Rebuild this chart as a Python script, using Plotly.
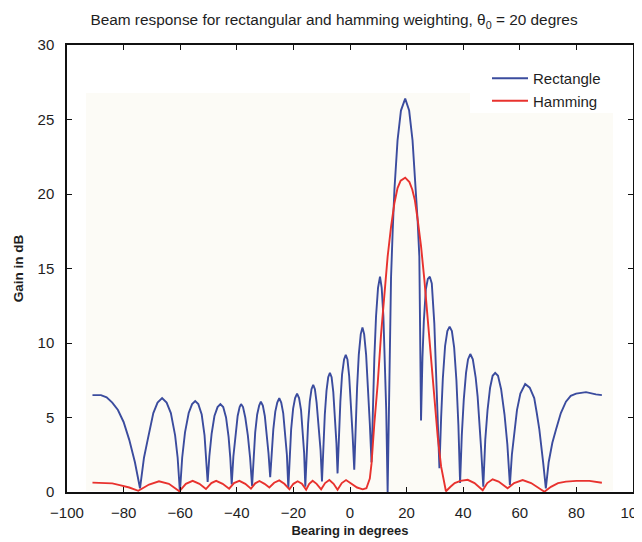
import plotly.graph_objects as go

# Rectangle (uniform) weighting response
rect_x = [-91, -88, -86, -84, -82, -80, -78, -76, -74.2,
          -72.8, -71.5, -69.5, -68, -66.4, -64.8, -63.3, -61.8, -60.9, -60.1,
          -59.3, -58.3, -57, -55.8, -54.7, -53.6, -52.4, -51.4, -50.8, -50.3,
          -49.7, -48.9, -47.9, -46.8, -45.8, -44.8, -43.8, -42.9, -42.3, -41.8,
          -41.2, -40.5, -39.7, -39.0, -38.5, -37.8, -37.0, -36.1, -35.3, -34.6,
          -34.1, -33.5, -32.8, -32.1, -31.5, -30.8, -30.1, -29.4, -28.8, -28.2,
          -27.7, -27.1, -26.4, -25.7, -25.0, -24.3, -23.6, -22.9, -22.3, -21.8,
          -21.3, -20.8, -20.1, -19.4, -18.7, -18.0, -17.3, -16.7, -16.2, -15.8,
          -15.3, -14.8, -14.2, -13.6, -13.0, -12.4, -11.8, -11.2, -10.4, -9.9,
          -9.4, -8.9, -8.3, -7.7, -7.1, -6.5, -5.9, -5.3, -4.8, -4.4,
          -3.9, -3.4, -2.8, -2.1, -1.5, -0.9, -0.3, 0.3, 0.9, 1.5,
          2.0, 2.5, 3.1, 3.8, 4.4, 5.0, 5.7, 6.4, 7.0, 7.6,
          8.1, 8.6, 9.2, 9.9, 10.6, 11.2, 11.8, 12.3, 12.8, 13.3,
          13.9, 14.5, 15.1, 15.7, 16.8, 18.0, 19.5, 20.9, 22.1, 23.3, 23.9, 24.5, 25.1,
          25.6, 26.1, 26.8, 27.5, 28.2, 28.9, 29.8, 30.6, 31.1, 31.6,
          32.2, 32.8, 33.6, 34.4, 35.2, 36.0, 36.8, 37.6, 38.3, 38.9,
          39.5, 40.2, 41.0, 41.7, 42.5, 43.4, 44.4, 45.1, 46.3, 47.1,
          47.8, 48.6, 49.5, 50.4, 51.3, 52.3, 53.4, 54.6, 55.6, 56.5,
          57.2, 58.1, 59.0, 60.2, 61.9, 63.5, 65.1, 66.0, 66.9, 68.3, 69.2,
          70.2, 71.5, 72.8, 74.5, 76.3, 78.0, 79.9, 83.4, 86.9, 89.0]
rect_y = [6.5, 6.5, 6.35, 6.0, 5.5, 4.7, 3.5, 2.0, 0.25,
          2.3, 3.5, 5.3, 6.0, 6.3, 6.0, 5.3, 3.8, 2.3, 0.0,
          2.3, 4.0, 5.3, 5.9, 6.1, 5.9, 5.2, 3.8, 2.4, 0.67,
          2.4, 3.9, 5.1, 5.7, 5.9, 5.7, 5.0, 3.7, 2.3, 0.5,
          2.4, 3.9, 5.1, 5.7, 5.9, 5.7, 5.0, 3.8, 2.3, 0.4,
          2.4, 4.0, 5.2, 5.8, 6.06, 5.8, 5.1, 3.9, 2.6, 1.0,
          2.8, 4.2, 5.4, 6.0, 6.3, 6.0, 5.3, 4.0, 2.5, 0.27,
          2.6, 4.2, 5.6, 6.3, 6.6, 6.3, 5.5, 4.2, 2.6, 0.36,
          2.9, 4.6, 6.1, 6.9, 7.2, 6.9, 6.0, 4.6, 2.8, 0.7,
          3.3, 5.2, 6.8, 7.7, 8.0, 7.7, 6.7, 5.1, 3.3, 1.25,
          4.0, 6.1, 7.9, 8.9, 9.2, 8.9, 7.8, 6.0, 3.9, 1.5,
          4.5, 7.0, 9.2, 10.6, 11.05, 10.6, 9.2, 7.0, 4.6, 2.0,
          6.0, 9.0, 11.8, 13.7, 14.45, 13.7, 11.8, 9.0, 5.5, 0.0,
          9.1, 14.4, 17.6, 20.3, 23.6, 25.6, 26.4, 25.6, 23.6, 20.3, 18.2, 15.8, 4.8,
          9.0, 11.5, 13.6, 14.3, 14.45, 14.0, 11.3, 6.8, 4.2, 1.6,
          5.0, 7.6, 9.8, 10.8, 11.1, 10.8, 9.7, 7.5, 4.5, 0.6,
          3.8, 6.2, 8.0, 8.9, 9.26, 8.9, 7.7, 6.4, 3.0, 0.36,
          3.5, 5.5, 7.0, 7.8, 8.0, 7.8, 6.9, 5.2, 3.2, 0.47,
          2.5, 4.2, 5.5, 6.6, 7.25, 7.0, 6.3, 5.3, 4.2, 1.9, 0.25,
          2.0, 3.3, 4.2, 5.3, 6.06, 6.45, 6.6, 6.7, 6.55, 6.5]

# Hamming weighting response
ham_x = [-91, -87, -84, -81, -78, -74.8, -71, -67.5, -64, -60.3,
         -58, -55.6, -53.2, -50.9, -49, -47.3, -45, -42.7, -41, -39.1,
         -37, -35, -33.5, -32, -30.2, -28.5, -26.8, -25, -23.2, -21.4,
         -20, -18.5, -17, -15.5, -14.4, -13.2, -11.8, -10.2, -8.8, -7.3,
         -5.8, -4.4, -2.9, -1.4, 0.3, 2.5, 4.5, 5.8, 7.0, 7.6,
         8.6, 9.8, 11.0, 12.1, 13.3, 14.5, 15.7, 16.8, 17.9, 19.5,
         21.0, 22.0, 22.9, 23.9, 25.1, 26.3, 27.4, 28.6, 29.8, 31.0,
         32.2, 33.9, 35.5, 37.0, 39.0, 41.6, 44.0, 46.9, 48.5, 50.4,
         52.5, 55.7, 58.0, 61.0, 64.0, 66.5, 68.7, 71.0, 73.5, 76.3,
         80.0, 84.6, 87.0, 89.0]
ham_y = [0.63, 0.63, 0.58, 0.45, 0.3, 0.08, 0.5, 0.72, 0.55, 0.05,
         0.55, 0.75, 0.55, 0.2, 0.6, 0.75, 0.55, 0.22, 0.6, 0.75,
         0.55, 0.22, 0.58, 0.74, 0.55, 0.3, 0.62, 0.78, 0.55, 0.18,
         0.55, 0.72, 0.55, 0.15, 0.55, 0.76, 0.55, 0.18, 0.6, 0.8,
         0.55, 0.15, 0.6, 0.8, 0.6, 0.3, 0.18, 0.25, 0.9, 1.9,
         4.6, 7.3, 10.65, 13.3, 15.8, 17.8, 19.4, 20.4, 20.9, 21.1,
         20.8, 20.3, 19.6, 18.3, 16.5, 14.2, 11.8, 9.1, 6.4, 3.7,
         1.7, 0.05, 0.35, 0.6, 0.75, 0.82, 0.6, 0.12, 0.6, 0.85,
         0.7, 0.25, 0.6, 0.8, 0.6, 0.3, 0.02, 0.35, 0.6, 0.7,
         0.75, 0.75, 0.68, 0.62]

x_ticks = [-100, -80, -60, -40, -20, 0, 20, 40, 60, 80, 100]
y_ticks = [0, 5, 10, 15, 20, 25, 30]

FONT = "Arial, Liberation Sans, sans-serif"
BLUE = "#3b4c9e"
RED = "#e8322e"
TXT = "#1e1e1e"

fig = go.Figure()
fig.add_trace(go.Scatter(x=rect_x, y=rect_y, mode="lines", name="Rectangle",
                         line=dict(color=BLUE, width=1.9)))
fig.add_trace(go.Scatter(x=ham_x, y=ham_y, mode="lines", name="Hamming",
                         line=dict(color=RED, width=1.9)))

# the page body adds an 8px margin, so the figure is sized to fit the window
OFF = 8
W, H = 642 - OFF, 542 - OFF
L, T = 67 - OFF, 45 - OFF
R = W - (633 - OFF)
B = H - (492 - OFF)
pw, ph = W - L - R, H - T - B

def px_x(p):  # page pixel -> paper fraction
    return (p - OFF - L) / pw

def px_y(p):
    return (H - B - (p - OFF)) / ph

shapes = [
    # cream background panel
    dict(type="rect", xref="paper", yref="paper", x0=px_x(86), x1=px_x(613),
         y0=px_y(491), y1=px_y(93), fillcolor="#fcfbf6", line=dict(width=0),
         layer="below"),
    # white box behind legend
    dict(type="rect", xref="paper", yref="paper", x0=px_x(470), x1=px_x(613),
         y0=px_y(113), y1=px_y(92), fillcolor="#ffffff", line=dict(width=0),
         layer="below"),
]

fig.update_layout(
    width=W, height=H,
    margin=dict(l=L, r=R, t=T, b=B, autoexpand=False),
    paper_bgcolor="white", plot_bgcolor="white",
    font=dict(family=FONT, size=14, color=TXT),
    title=dict(text="Beam response for rectangular and hamming weighting, θ<sub>0</sub> = 20 degres",
               x=(334 - OFF) / W, xref="container", xanchor="center",
               y=1 - (20 - OFF) / H, yref="container", yanchor="middle",
               automargin=False,
               font=dict(size=15.4, family=FONT, color=TXT)),
    showlegend=True,
    legend=dict(x=px_x(487), y=px_y(62), xanchor="left", yanchor="top",
                bgcolor="rgba(0,0,0,0)", font=dict(size=15, family=FONT, color=TXT),
                itemwidth=36, tracegroupgap=0),
    shapes=shapes,
)
fig.update_xaxes(range=[-100, 100], tickvals=x_ticks, ticks="inside", ticklen=5,
                 tickwidth=1.2, tickcolor="#111111", showline=True, linecolor="#111111",
                 linewidth=1.5, mirror="ticks", showgrid=False, zeroline=False,
                 automargin=False, ticklabelstandoff=6, ticklabeloverflow="allow",
                 tickfont=dict(size=15, family=FONT, color=TXT),
                 title=dict(text="<b>Bearing in degrees</b>", standoff=6,
                            font=dict(size=13, family=FONT, color=TXT)))
fig.update_yaxes(range=[0, 30], tickvals=y_ticks, ticks="inside", ticklen=5,
                 tickwidth=1.2, tickcolor="#111111", showline=True, linecolor="#111111",
                 linewidth=1.5, mirror="ticks", showgrid=False, zeroline=False,
                 automargin=False, ticklabelstandoff=8, ticklabeloverflow="allow",
                 tickfont=dict(size=15, family=FONT, color=TXT),
                 title=dict(text="<b>Gain in dB</b>", standoff=11,
                            font=dict(size=13.5, family=FONT, color=TXT)))

fig.write_html("out.html")
